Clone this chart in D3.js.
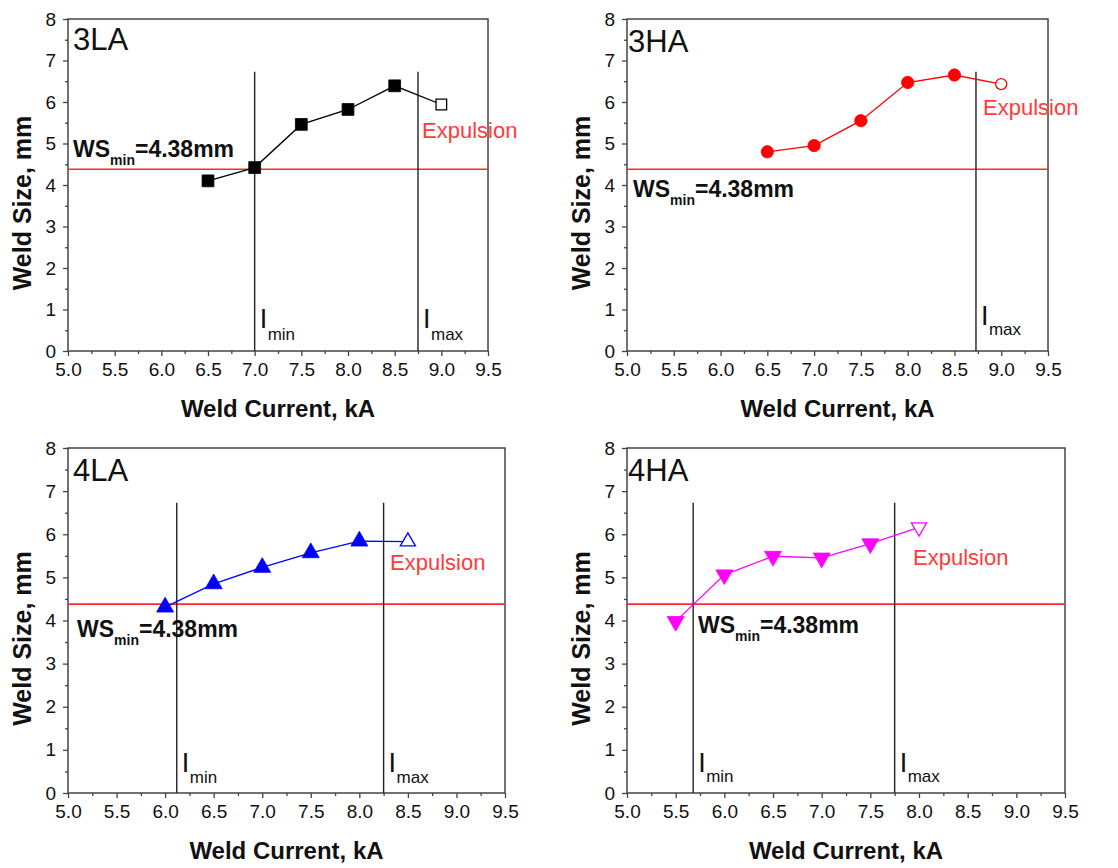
<!DOCTYPE html>
<html>
<head>
<meta charset="utf-8">
<script src="https://cdn.jsdelivr.net/npm/d3@7"></script>
<style>
  body { margin: 0; background: #fff; }
  text { font-family: Arial, "Liberation Sans", sans-serif; }
</style>
</head>
<body>
<svg id="fig" width="1118" height="868"></svg>
<script>
// tick labels
const xTicks = [5.0, 5.5, 6.0, 6.5, 7.0, 7.5, 8.0, 8.5, 9.0, 9.5];
const yTicks = [0, 1, 2, 3, 4, 5, 6, 7, 8];
const wsMin = 4.38;

// series (last point of every series = expulsion, drawn open)
const current3LA = [6.5, 7.0, 7.5, 8.0, 8.5, 9.0];
const size3LA    = [4.10, 4.42, 5.46, 5.82, 6.39, 5.94];
const current3HA = [6.5, 7.0, 7.5, 8.0, 8.5, 9.0];
const size3HA    = [4.80, 4.95, 5.55, 6.47, 6.65, 6.43];
const current4LA = [6.0, 6.5, 7.0, 7.5, 8.0, 8.5];
const size4LA    = [4.31, 4.85, 5.23, 5.57, 5.84, 5.83];
const current4HA = [5.5, 6.0, 6.5, 7.0, 7.5, 8.0];
const size4HA    = [3.98, 5.06, 5.49, 5.45, 5.78, 6.16];

// current limits
const panelNames = ["3LA", "3HA", "4LA", "4HA"];
const iMin = [7.0, null, 6.12, 5.68];
const iMax = [8.75, 8.73, 8.25, 7.75];
const limitTop = 6.73;

const svg = d3.select("#fig");

const panels = [
  {name: panelNames[0], xs: current3LA, ys: size3LA, imin: iMin[0], imax: iMax[0],
   color: "#000", sym: d3.symbolSquare, symSize: 140, rot: 0,
   box: [68, 488, 19, 351], lab: [5, 31], ws: [73, 157], exp: [422, 138], iOff: [23, 11]},
  {name: panelNames[1], xs: current3HA, ys: size3HA, imin: iMin[1], imax: iMax[1],
   color: "#ff0000", sym: d3.symbolCircle, symSize: 120, rot: 0,
   box: [627, 1048, 19, 351], lab: [1, 33], ws: [633, 197], exp: [983, 115], iOff: [26, 16]},
  {name: panelNames[2], xs: current4LA, ys: size4LA, imin: iMin[2], imax: iMax[2],
   color: "#0000ff", sym: d3.symbolTriangle, symSize: 125, rot: 0,
   box: [68, 505, 448, 793], lab: [5, 33], ws: [77, 637], exp: [390, 570], iOff: [21, 10]},
  {name: panelNames[3], xs: current4HA, ys: size4HA, imin: iMin[3], imax: iMax[3],
   color: "#ff00ff", sym: d3.symbolTriangle, symSize: 125, rot: 180,
   box: [627, 1065, 448, 793], lab: [1, 33], ws: [698, 633], exp: [913, 565], iOff: [21, 11]}
];

panels.forEach(p => {
  const [l, r, t, b] = p.box;
  const x = d3.scaleLinear().domain([5, 9.5]).range([l, r]);
  const y = d3.scaleLinear().domain([0, 8]).range([b, t]);
  const g = svg.append("g");

  // minor ticks
  const xMinor = d3.range(5.25, 9.5, 0.5);
  const yMinor = d3.range(0.5, 8, 1);
  g.append("g").attr("transform", `translate(0,${b})`)
    .call(d3.axisBottom(x).tickValues(xMinor).tickSize(3).tickFormat(""))
    .call(a => a.select(".domain").remove())
    .selectAll("line").attr("stroke", "#444").attr("stroke-width", 1.3);
  g.append("g").attr("transform", `translate(${l},0)`)
    .call(d3.axisLeft(y).tickValues(yMinor).tickSize(3).tickFormat(""))
    .call(a => a.select(".domain").remove())
    .selectAll("line").attr("stroke", "#444").attr("stroke-width", 1.3);

  // major ticks
  const xa = g.append("g").attr("transform", `translate(0,${b})`)
    .call(d3.axisBottom(x).tickValues(xTicks).tickSize(5).tickPadding(7).tickFormat(d3.format(".1f")));
  xa.select(".domain").remove();
  xa.selectAll("line").attr("stroke", "#444").attr("stroke-width", 1.3);
  xa.selectAll("text").attr("font-size", 19).attr("fill", "#111")
    .attr("font-family", "Arial, 'Liberation Sans', sans-serif");

  const ya = g.append("g").attr("transform", `translate(${l},0)`)
    .call(d3.axisLeft(y).tickValues(yTicks).tickSize(5).tickPadding(7));
  ya.select(".domain").remove();
  ya.selectAll("line").attr("stroke", "#444").attr("stroke-width", 1.3);
  ya.selectAll("text").attr("font-size", 19).attr("fill", "#111")
    .attr("font-family", "Arial, 'Liberation Sans', sans-serif");

  // frame
  g.append("rect").attr("x", l).attr("y", t).attr("width", r - l).attr("height", b - t)
    .attr("fill", "none").attr("stroke", "#444").attr("stroke-width", 1.5);

  // axis titles
  g.append("text").attr("x", (l + r) / 2).attr("y", b + 66)
    .attr("text-anchor", "middle").attr("font-size", 24).attr("font-weight", "bold")
    .attr("fill", "#111").text("Weld Current, kA");
  g.append("text")
    .attr("transform", `translate(${l - 37},${(t + b) / 2 + 18}) rotate(-90)`)
    .attr("text-anchor", "middle").attr("font-size", 25).attr("font-weight", "bold")
    .attr("fill", "#111").text("Weld Size, mm");

  // WSmin line
  g.append("line").attr("x1", l).attr("x2", r).attr("y1", y(wsMin)).attr("y2", y(wsMin))
    .attr("stroke", "#ff2a2a").attr("stroke-width", 1.6);

  // current limit lines
  const limits = [{v: p.imin, sub: "min"}, {v: p.imax, sub: "max"}].filter(d => d.v != null);
  limits.forEach(d => {
    g.append("line").attr("x1", x(d.v)).attr("x2", x(d.v)).attr("y1", y(limitTop)).attr("y2", b)
      .attr("stroke", "#222").attr("stroke-width", 1.4);
    const tx = g.append("text").attr("x", x(d.v) + 5).attr("y", b - p.iOff[0])
      .attr("fill", "#111").attr("font-size", 27);
    tx.append("tspan").text("I");
    tx.append("tspan").attr("x", x(d.v) + 13).attr("y", b - p.iOff[1]).attr("font-size", 17).text(d.sub);
  });

  // series line
  const pts = p.xs.map((v, i) => [v, p.ys[i]]);
  g.append("path").datum(pts)
    .attr("d", d3.line().x(d => x(d[0])).y(d => y(d[1])))
    .attr("fill", "none").attr("stroke", p.color).attr("stroke-width", 1.3);

  // markers
  const last = pts.length - 1;
  g.selectAll(".mk").data(pts).enter().append("path")
    .attr("d", (d, i) => d3.symbol().type(p.sym).size(i === last ? p.symSize * 0.8 : p.symSize)())
    .attr("transform", d => `translate(${x(d[0])},${y(d[1])}) rotate(${p.rot})`)
    .attr("fill", (d, i) => i === last ? "#fff" : p.color)
    .attr("stroke", p.color).attr("stroke-width", (d, i) => i === last ? 1.3 : 0.8);

  // texts
  g.append("text").attr("x", l + p.lab[0]).attr("y", t + p.lab[1])
    .attr("font-size", 31).attr("fill", "#111").text(p.name);

  const ws = g.append("text").attr("x", p.ws[0]).attr("y", p.ws[1])
    .attr("font-size", 23).attr("font-weight", "bold").attr("fill", "#111");
  ws.append("tspan").text("WS");
  ws.append("tspan").attr("font-size", 14).attr("dy", 8).text("min");
  ws.append("tspan").attr("dy", -8).text("=4.38mm");

  g.append("text").attr("x", p.exp[0]).attr("y", p.exp[1])
    .attr("font-size", 22).attr("fill", "#ff3b3b").text("Expulsion");
});
</script>
</body>
</html>
